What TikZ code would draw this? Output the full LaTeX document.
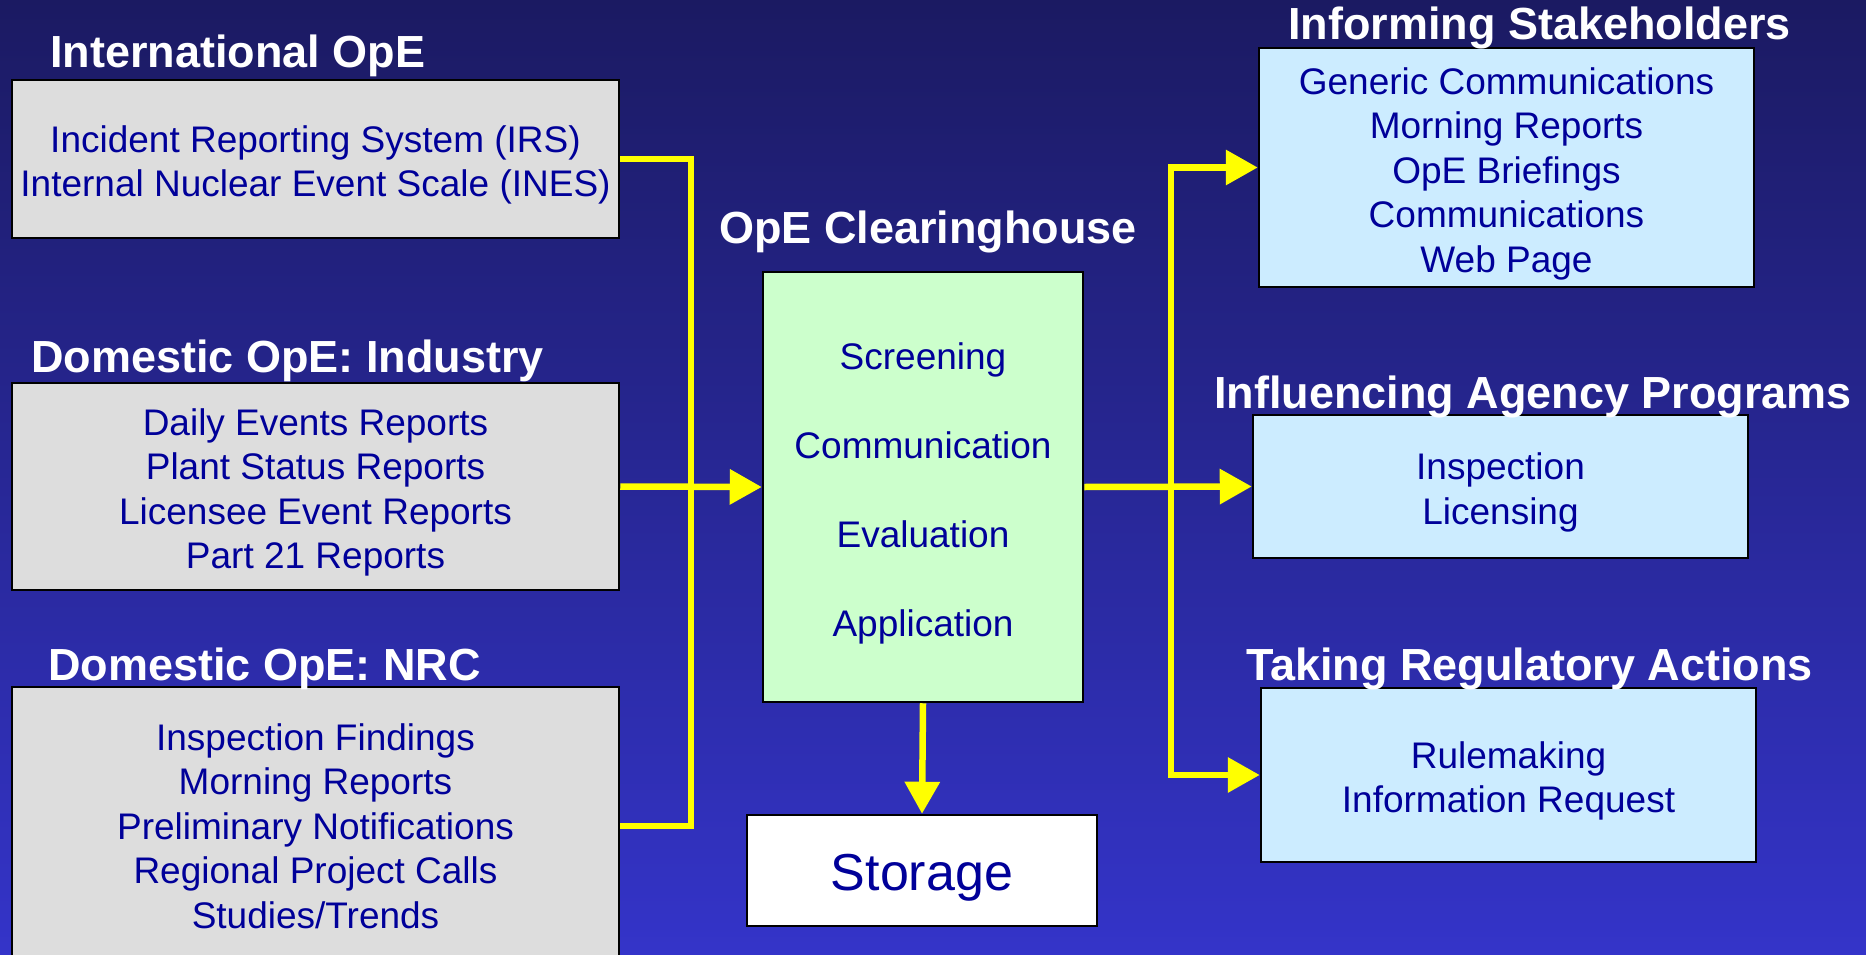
\documentclass[tikz,border=0pt]{standalone}
\usepackage{fontspec}
\setmainfont{Liberation Sans}
\usetikzlibrary{arrows.meta}
\definecolor{bgtop}{HTML}{1B1A62}
\definecolor{bgbot}{HTML}{3434C9}
\definecolor{txt}{HTML}{000099}
\definecolor{grayfill}{HTML}{DDDDDD}
\definecolor{greenfill}{HTML}{CCFFCC}
\definecolor{bluefill}{HTML}{CCECFF}
\definecolor{yel}{HTML}{FFFF00}
\begin{document}
\begin{tikzpicture}[x=1pt,y=-1pt,
 box/.style={draw=black,line width=2.5pt,inner sep=0pt},
 boxtext/.style={text=txt,align=center,inner sep=0pt,
   font=\fontsize{37}{44.5}\selectfont},
 ttl/.style={text=white,anchor=base west,inner sep=0pt,
   font=\bfseries\fontsize{45}{54}\selectfont},
 conn/.style={draw=yel,line width=6.5pt},
 arr/.style={conn,-{Triangle[length=32pt,width=34pt]}}]

\useasboundingbox (0,0) rectangle (1866,955);
\shade[top color=bgtop,bottom color=bgbot] (0,0) rectangle (1866,955);

% boxes
\node[box,fill=grayfill,minimum width=607pt,minimum height=158pt] (intl) at (315.5,159) {};
\node[box,fill=grayfill,minimum width=607pt,minimum height=207pt] (ind) at (315.5,486.5) {};
\node[box,fill=grayfill,minimum width=607pt,minimum height=278pt] (nrc) at (315.5,826) {};
\node[box,fill=greenfill,minimum width=320pt,minimum height=430pt] (ch) at (923,487) {};
\node[box,fill=white,minimum width=350pt,minimum height=111pt] (sto) at (922,870.5) {};
\node[box,fill=bluefill,minimum width=495pt,minimum height=239pt] (inf) at (1506.5,167.5) {};
\node[box,fill=bluefill,minimum width=495pt,minimum height=143pt] (infl) at (1500.5,486.5) {};
\node[box,fill=bluefill,minimum width=495pt,minimum height=174pt] (tak) at (1508.5,775) {};

% box texts
\node[boxtext] (xintl) at ([yshift=-6pt]intl.center)
  {Incident Reporting System (IRS)\\Internal Nuclear Event Scale (INES)};
\node[boxtext] (xind) at ([yshift=-6pt]ind.center)
  {Daily Events Reports\\Plant Status Reports\\Licensee Event Reports\\Part 21 Reports};
\node[boxtext] (xnrc) at ([yshift=0pt]nrc.center)
  {Inspection Findings\\Morning Reports\\Preliminary Notifications\\Regional Project Calls\\Studies/Trends};
\node[boxtext,font=\fontsize{37}{89}\selectfont] (xch) at ([yshift=-6pt]ch.center)
  {Screening\\Communication\\Evaluation\\Application};
\node[boxtext,font=\fontsize{52}{60}\selectfont] (xsto) at ([yshift=-7pt]sto.center) {Storage};
\node[boxtext] (xinf) at ([yshift=-6pt]inf.center)
  {Generic Communications\\Morning Reports\\OpE Briefings\\Communications\\Web Page};
\node[boxtext] (xinfl) at ([yshift=-6pt]infl.center) {Inspection\\Licensing};
\node[boxtext] (xtak) at ([yshift=-6pt]tak.center) {Rulemaking\\Information Request};

% titles
\node[ttl] (tintl) at (50,68) {International OpE};
\node[ttl] (tind) at (31,372) {Domestic OpE: Industry};
\node[ttl] (tnrc) at (48,680) {Domestic OpE: NRC};
\node[ttl] (tch) at (719,243) {OpE Clearinghouse};
\node[ttl] (tinf) at (1288,40) {Informing Stakeholders};
\node[ttl] (tinfl) at (1214,408) {Influencing Agency Programs};
\node[ttl] (ttak) at (1246,680) {Taking Regulatory Actions};

% connectors
\coordinate (lx) at (691,486.5);
\coordinate (rx) at (1171,486.5);
\draw[conn] (intl.east) -| (lx) |- (nrc.east);
\draw[arr] (ind.east) -- (ch.west);
\draw[arr] (ch.east) -- (infl.west);
\draw[arr] (rx) |- (inf.west);
\draw[arr] (rx) |- (tak.west);
\draw[arr] (ch.south) -- (sto.north);
\end{tikzpicture}
\end{document}
